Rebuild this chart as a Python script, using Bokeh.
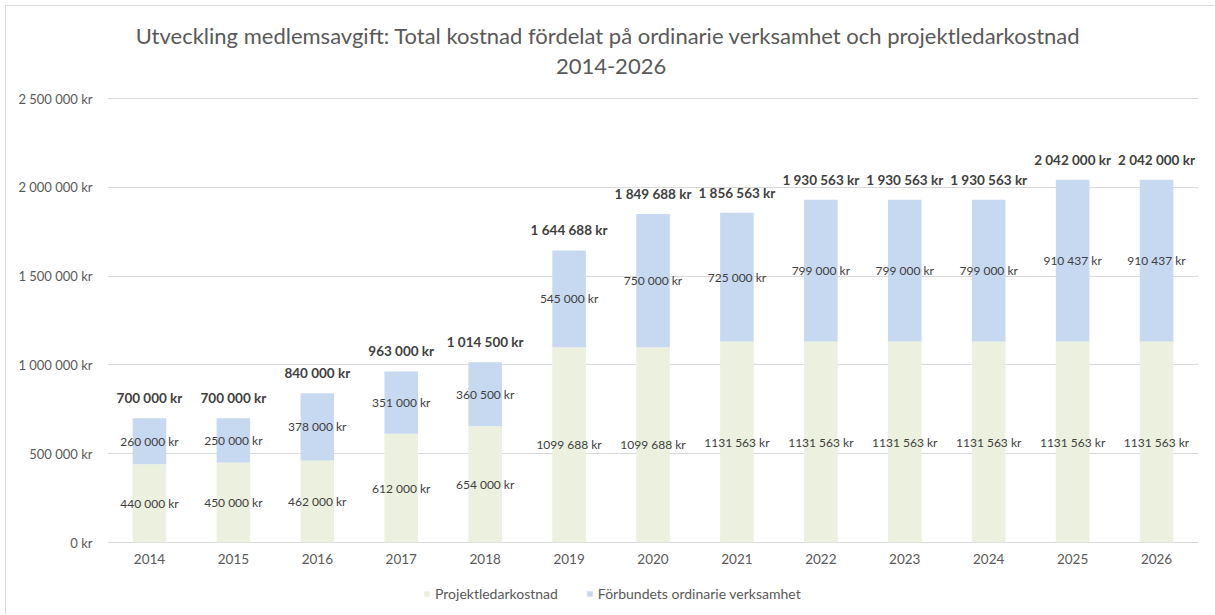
from bokeh.plotting import figure
from bokeh.models import (ColumnDataSource, FactorRange, Range1d, CustomJSTickFormatter,
                          FixedTicker, Label, Legend, LegendItem, LabelSet)
from bokeh.core.properties import value
from bokeh.embed import file_html
from bokeh.resources import INLINE

years = ["2014", "2015", "2016", "2017", "2018", "2019", "2020",
         "2021", "2022", "2023", "2024", "2025", "2026"]
projekt = [440000, 450000, 462000, 612000, 654000, 1099688, 1099688,
           1131563, 1131563, 1131563, 1131563, 1131563, 1131563]
forbund = [260000, 250000, 378000, 351000, 360500, 545000, 750000,
           725000, 799000, 799000, 799000, 910437, 910437]
y_ticks = [0, 500000, 1000000, 1500000, 2000000, 2500000]
title_lines = ["Utveckling medlemsavgift:  Total kostnad fördelat på ordinarie verksamhet och projektledarkostnad",
               "2014-2026"]

FONT = "Lato"
GREEN = "#ebf1de"
BLUE = "#c6d9f1"
TXT = "#595959"
LBL = "#404040"


def fmt_seg(v):
    s = str(int(v))
    return (s[:-3] + " " + s[-3:] + " kr") if len(s) > 3 else s + " kr"


def fmt_total(v):
    return "{:,}".format(int(v)).replace(",", " ") + " kr"


totals = [a + b for a, b in zip(projekt, forbund)]
src = ColumnDataSource(dict(
    year=years, projekt=projekt, forbund=forbund, total=totals,
    zero=[0] * len(years),
    p_mid=[a / 2 for a in projekt],
    f_mid=[a + b / 2 for a, b in zip(projekt, forbund)],
    p_txt=[fmt_seg(v) for v in projekt],
    f_txt=[fmt_seg(v) for v in forbund],
    t_txt=[fmt_total(v) for v in totals],
))

# The frame fills the whole height: top gridline 92 px below the top, value 0 73 px above the bottom.
Y_TOP = 2500000
PX = 444  # pixels between 0 and Y_TOP
y_top = Y_TOP + Y_TOP * 92 / PX
y_bottom = -Y_TOP * 73 / PX

p = figure(x_range=FactorRange(*years), y_range=Range1d(y_bottom, y_top),
           width=1209, height=609, output_backend="svg", toolbar_location=None,
           min_border_left=101, min_border_right=17, min_border_top=0,
           min_border_bottom=0, title=None,
           styles={"border-top": "1px solid #d9d9d9", "border-left": "1px solid #d9d9d9"},
           margin=(5, 0, 0, 5))
p.outline_line_color = None
p.background_fill_color = "white"

r = p.vbar_stack(["projekt", "forbund"], x="year", width=0.4, color=[GREEN, BLUE],
                 line_color=None, source=src)

# axes
p.yaxis.ticker = FixedTicker(ticks=y_ticks)
p.yaxis.formatter = CustomJSTickFormatter(code="""
const s = Math.round(tick).toString().replace(/\\B(?=(\\d{3})+(?!\\d))/g, " ");
return s + " kr";
""")
p.yaxis.axis_line_color = None
p.yaxis.major_tick_line_color = None
p.yaxis.minor_tick_line_color = None
p.yaxis.major_label_text_font = FONT
p.yaxis.major_label_text_font_size = "13px"
p.yaxis.major_label_text_color = TXT
p.yaxis.major_label_standoff = 9

p.xaxis.visible = False
p.xgrid.grid_line_color = None
p.ygrid.grid_line_color = "#d9d9d9"
p.ygrid.grid_line_width = 1

# category labels under the baseline
p.add_layout(LabelSet(x="year", y="zero", text="year", source=src,
                      text_align="center", text_baseline="middle", y_offset=-16,
                      text_font=value(FONT), text_font_size=value("13.5px"),
                      text_color=TXT))

# data labels
for ycol, tcol in (("p_mid", "p_txt"), ("f_mid", "f_txt")):
    p.add_layout(LabelSet(x="year", y=ycol, text=tcol, source=src,
                          text_align="center", text_baseline="middle",
                          text_font=value(FONT), text_font_size=value("12px"),
                          text_color=LBL))
p.add_layout(LabelSet(x="year", y="total", text="t_txt", source=src,
                      text_align="center", text_baseline="middle", y_offset=20,
                      text_font=value(FONT), text_font_size=value("13.5px"),
                      text_font_style="bold", text_color=LBL))

# two-line title, centred on the whole chart
for txt, off in zip(title_lines, (63, 32)):
    p.add_layout(Label(x=6.0, y=Y_TOP, y_offset=off, text=txt,
                       text_align="center", text_baseline="middle",
                       text_font=FONT, text_font_size="22px", text_color=TXT))

legend = Legend(items=[LegendItem(label="Projektledarkostnad", renderers=[r[0]]),
                       LegendItem(label="Förbundets ordinarie verksamhet", renderers=[r[1]])],
                orientation="horizontal", location=(316, 13),
                glyph_width=7, glyph_height=7, spacing=28, padding=0, margin=0,
                label_text_font=FONT, label_text_font_size="14px",
                label_text_color=TXT, label_standoff=5, label_height=14,
                border_line_color=None, background_fill_alpha=0)
p.add_layout(legend, "center")

open("out.html", "w").write(file_html(p, INLINE))
